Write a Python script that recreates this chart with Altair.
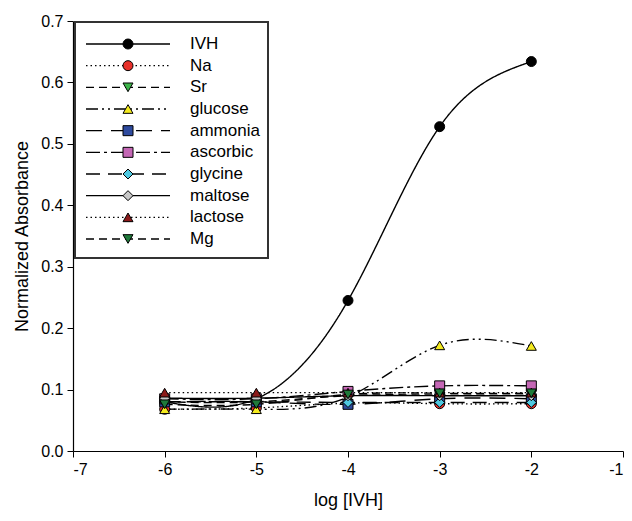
import altair as alt
import pandas as pd

x_vals = [-6, -5, -4, -3, -2]
names = ["IVH", "Na", "Sr", "glucose", "ammonia", "ascorbic", "glycine", "maltose", "lactose", "Mg"]
IVH = [0.080, 0.085, 0.245, 0.528, 0.634]
Na = [0.068, 0.070, 0.078, 0.077, 0.077]
Sr = [0.080, 0.080, 0.090, 0.091, 0.091]
glucose = [0.068, 0.068, 0.088, 0.172, 0.171]
ammonia = [0.080, 0.080, 0.076, 0.085, 0.085]
ascorbic = [0.085, 0.085, 0.097, 0.106, 0.106]
glycine = [0.080, 0.080, 0.079, 0.079, 0.079]
maltose = [0.086, 0.086, 0.090, 0.090, 0.090]
lactose = [0.095, 0.095, 0.095, 0.095, 0.095]
Mg = [0.076, 0.076, 0.092, 0.094, 0.094]
series = [IVH, Na, Sr, glucose, ammonia, ascorbic, glycine, maltose, lactose, Mg]

colors = ["#000000", "#e8302a", "#3cb54a", "#f5eb1f", "#2e4a9e", "#c467b5", "#4fc8e0", "#c8c8c8", "#8b1a1a", "#1f7a3a"]
shapes = ["circle", "circle", "triangle-down", "triangle-up", "square", "square", "diamond", "diamond", "triangle-up", "triangle-down"]
dashes = [[1, 0], [1.5, 3], [8, 5], [12, 4, 2, 4, 2, 4], [16, 9], [14, 4, 3, 4], [14, 8], [1, 0], [1.5, 3], [8, 5]]

rows = []
for n, vals in zip(names, series):
    for xv, yv in zip(x_vals, vals):
        rows.append({"series": n, "x": xv, "y": yv})
df = pd.DataFrame(rows)
leg = pd.DataFrame({"series": names})

font = "Liberation Sans"
color_s = alt.Scale(domain=names, range=colors)
shape_s = alt.Scale(domain=names, range=shapes)
dash_s = alt.Scale(domain=names, range=dashes)

xenc = alt.X("x:Q", scale=alt.Scale(domain=[-7, -1]), title="log [IVH]",
             axis=alt.Axis(values=[-7, -6, -5, -4, -3, -2, -1], labelExpr="'' + datum.value", grid=False))
yenc = alt.Y("y:Q", scale=alt.Scale(domain=[0, 0.7]), title="Normalized Absorbance",
             axis=alt.Axis(values=[0, 0.1, 0.2, 0.3, 0.4, 0.5, 0.6, 0.7], format=".1f", grid=False))

lines = alt.Chart(df).mark_line(interpolate="natural", strokeWidth=1.4, color="black").encode(
    x=xenc, y=yenc,
    strokeDash=alt.StrokeDash("series:N", scale=dash_s, legend=None),
    detail="series:N",
)
points = alt.Chart(df).mark_point(filled=True, size=100, stroke="black", strokeWidth=1, opacity=1).encode(
    x="x:Q", y="y:Q",
    color=alt.Color("series:N", scale=color_s, legend=None),
    shape=alt.Shape("series:N", scale=shape_s, legend=None),
)

box = alt.Chart(pd.DataFrame({"a": [0]})).mark_rect(fill="white", stroke="#333333", strokeWidth=2).encode(
    x=alt.value(2), x2=alt.value(195), y=alt.value(1), y2=alt.value(237)
)
ly = alt.Y("series:N", sort=names, scale=alt.Scale(type="point", range=[23, 218], padding=0), axis=None)
leg_lines = alt.Chart(leg).mark_rule(strokeWidth=1.4, color="black").encode(
    x=alt.value(13), x2=alt.value(97), y=ly,
    strokeDash=alt.StrokeDash("series:N", scale=dash_s, legend=None),
)
leg_pts = alt.Chart(leg).mark_point(filled=True, size=100, stroke="black", strokeWidth=1, opacity=1).encode(
    x=alt.value(55), y=ly,
    color=alt.Color("series:N", scale=color_s, legend=None),
    shape=alt.Shape("series:N", scale=shape_s, legend=None),
)
leg_text = alt.Chart(leg).mark_text(align="left", baseline="middle", fontSize=17, font=font).encode(
    x=alt.value(117), y=ly, text="series:N"
)

main = alt.layer(lines, points)
legend = alt.layer(box, leg_lines, leg_pts, leg_text)

chart = alt.layer(main, legend).resolve_scale(y="independent").properties(
    width=550, height=430,
    padding={"left": 5, "top": 5, "right": 0, "bottom": 5},
).configure_view(stroke=None).configure_axis(
    labelFont=font, titleFont=font, labelFontSize=16, titleFontSize=18,
    titleFontWeight="normal", labelColor="black", titleColor="black",
    domainColor="black", tickColor="black", tickSize=6, domainWidth=1.2,
    labelPadding=4,
).configure_axisX(titlePadding=14).configure_axisY(titlePadding=9)

chart.save("out.html", embed_options={"renderer": "svg", "actions": False})
